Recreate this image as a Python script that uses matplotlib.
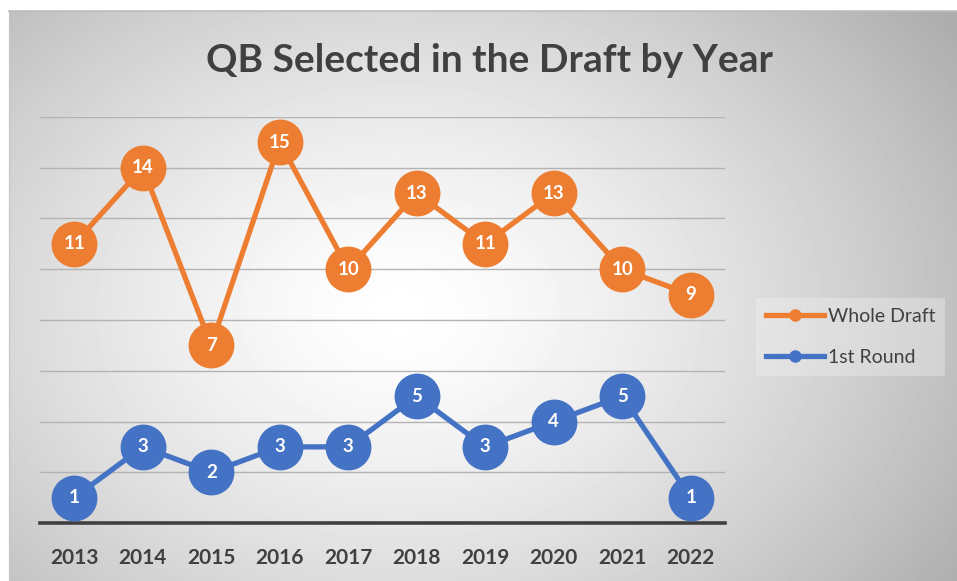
import numpy as np
import matplotlib.pyplot as plt
from matplotlib.lines import Line2D

# data
years = ['2013', '2014', '2015', '2016', '2017', '2018', '2019', '2020', '2021', '2022']
whole_draft = [11, 14, 7, 15, 10, 13, 11, 13, 10, 9]
first_round = [1, 3, 2, 3, 3, 5, 3, 4, 5, 1]

orange = '#ED7D31'
blue = '#4472C4'
dark = '#404040'
W, H = 957, 581

plt.rcParams['font.family'] = ['Lato', 'DejaVu Sans']

fig = plt.figure(figsize=(W / 100, H / 100), dpi=100)
fig.patch.set_facecolor('white')

# radial gradient background
bg = fig.add_axes([9 / W, 0, 948 / W, 570 / H])
yy, xx = np.mgrid[0:570, 0:948]
cx, cy = 390, 300
r = np.sqrt(((xx - cx) / 560.0) ** 2 + ((yy - cy) / 420.0) ** 2)
val = 1.0 - 0.25 * np.clip(r, 0, 1.2) ** 1.4
bg.imshow(val, cmap='gray', vmin=0, vmax=1, aspect='auto', interpolation='bilinear')
bg.set_xticks([])
bg.set_yticks([])
for s in ['right', 'bottom']:
    bg.spines[s].set_visible(False)
bg.spines['top'].set_color('#bdbdbd')
bg.spines['top'].set_linewidth(1.2)
bg.spines['left'].set_color('#c4c4c4')

ax = fig.add_axes([40 / W, (H - 523) / H, 685 / W, (523 - 117) / H])
ax.patch.set_alpha(0)
x = np.arange(len(years))
ax.set_xlim(-0.5, len(years) - 0.5)
ax.set_ylim(0, 16)
ax.set_yticks(np.arange(2, 17, 2))
ax.yaxis.grid(True, color='#b3b3b3', linewidth=1.0)
ax.set_axisbelow(True)
ax.tick_params(axis='y', left=False, labelleft=False)
ax.tick_params(axis='x', length=0, pad=18, labelsize=15, labelcolor=dark)
ax.set_xticks(x)
ax.set_xticklabels(years, fontweight='bold')
for s in ['top', 'right', 'left']:
    ax.spines[s].set_visible(False)
ax.spines['bottom'].set_color(dark)
ax.spines['bottom'].set_linewidth(2.6)

for vals, col in [(whole_draft, orange), (first_round, blue)]:
    ax.plot(x, vals, color=col, linewidth=3.8, marker='o', markersize=32,
            markerfacecolor=col, markeredgecolor=col, clip_on=False, zorder=3)
    for xi, v in zip(x, vals):
        ax.text(xi, v, str(v), ha='center', va='center', color='white',
                fontsize=13.5, fontweight='bold', zorder=4)

fig.text(489 / W, 1 - 60 / H, 'QB Selected in the Draft by Year', ha='center', va='center',
         fontsize=28, fontweight='bold', color=dark)

handles = [Line2D([], [], color=orange, linewidth=3.8, marker='o', markersize=8),
           Line2D([], [], color=blue, linewidth=3.8, marker='o', markersize=8)]
leg = fig.legend(handles, ['Whole Draft', '1st Round'], loc='center left',
                 bbox_to_anchor=(756 / W, 1 - 337 / H), frameon=True, fontsize=14,
                 handlelength=3.0, handletextpad=0.2, labelspacing=1.25,
                 borderpad=0.5, borderaxespad=0, labelcolor=dark)
leg.get_frame().set_facecolor('#f4f4f4')
leg.get_frame().set_alpha(0.35)
leg.get_frame().set_edgecolor('none')
leg.get_frame().set_boxstyle('square', pad=0)

fig.savefig('out.png', dpi=100)
